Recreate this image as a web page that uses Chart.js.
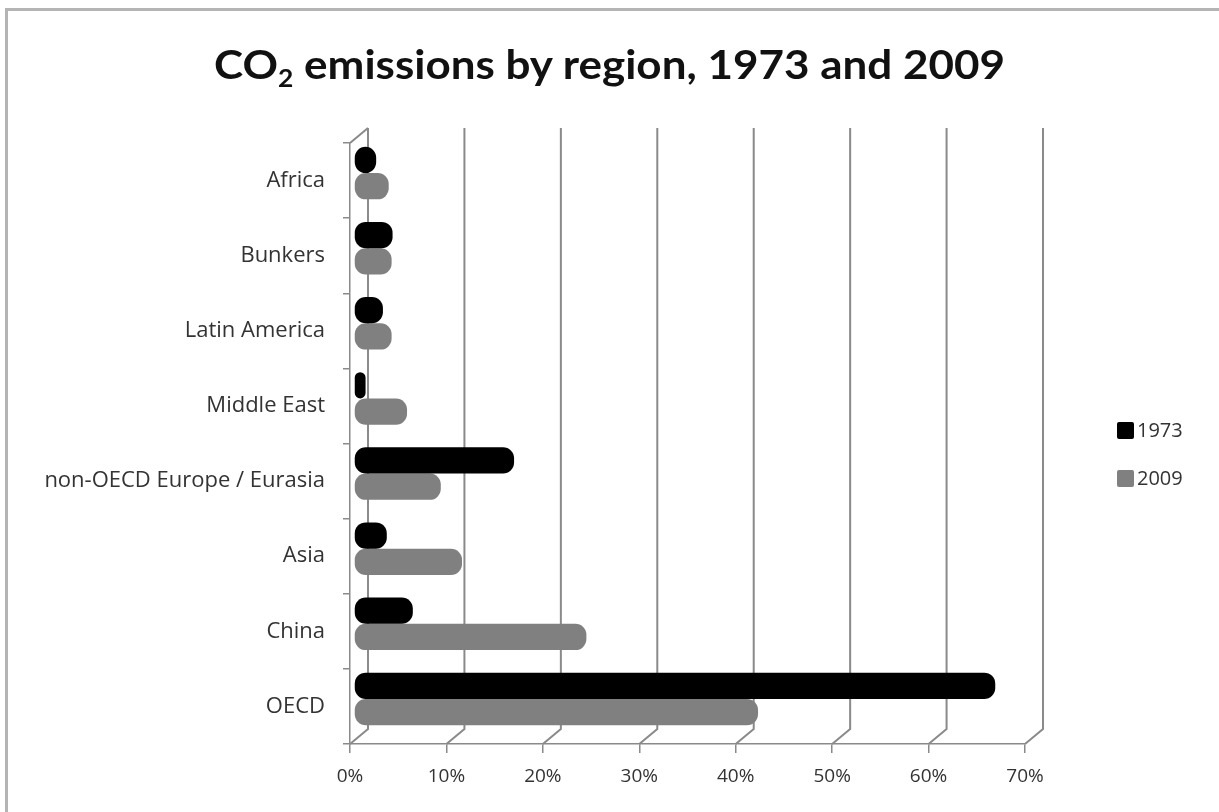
<!DOCTYPE html>
<html>
<head>
<meta charset="utf-8">
<script src="https://cdn.jsdelivr.net/npm/chart.js@4"></script>
<style>
  html, body { margin: 0; padding: 0; background: #fff; overflow: hidden; }
  body { width: 1219px; height: 812px; position: relative; }
  #frameL { position: absolute; left: 5px; top: 8px; width: 3px; height: 804px; background: #b4b4b4; }
  #frameT { position: absolute; left: 5px; top: 8px; width: 1214px; height: 3px; background: #b4b4b4; }
  #title { position: absolute; left: 0; width: 1219px; top: 40px; text-align: center;
           font-family: Lato, "Open Sans", sans-serif; font-weight: bold; font-size: 40px;
           color: #111; white-space: nowrap; }
  #title span.t { display: inline-block; transform: scaleX(1.1); transform-origin: center; }
  #title sub { font-size: 24px; vertical-align: -8px; }
  #chartBox { position: absolute; left: 0; top: 0; width: 1219px; height: 812px; }
  .leg { position: absolute; left: 1117px; font-family: "Open Sans", sans-serif;
         font-size: 20px; color: #333; }
  .leg i { display: inline-block; width: 17px; height: 17px; border-radius: 2px;
           vertical-align: -2px; margin-right: 3px; }
</style>
</head>
<body>
<div id="frameL"></div>
<div id="frameT"></div>
<div id="chartBox"><canvas id="chartCO2" width="1219" height="812"></canvas></div>
<div id="title"><span class="t">CO<sub>2</sub> emissions by region, 1973 and 2009</span></div>
<div class="leg" style="top:416px"><i style="background:#000"></i>1973</div>
<div class="leg" style="top:464px"><i style="background:#808080"></i>2009</div>
<script>
// Regiones y participación en las emisiones (%)
const regiones = ["Africa", "Bunkers", "Latin America", "Middle East",
                  "non-OECD Europe / Eurasia", "Asia", "China", "OECD"];
const anios = ["1973", "2009"];
const share1973 = [2.3, 4.0, 3.0, 1.2, 16.6, 3.4, 6.1, 66.5];
const share2009 = [3.6, 3.9, 3.9, 5.5, 9.0, 11.2, 24.1, 41.9];
const ticksX = [0, 10, 20, 30, 40, 50, 60, 70];

// desplazamiento de la pared del fondo (efecto 3D)
const DX = 18, DY = -15;

// Pared del fondo y líneas de profundidad
const paredFondo = {
    id: "paredFondo",
    beforeDatasetsDraw(chart) {
        const ctx = chart.ctx, xs = chart.scales.x, area = chart.chartArea;
        ctx.save();
        ctx.strokeStyle = "#8a8a8a";
        ctx.lineWidth = 2;
        ticksX.forEach(v => {
            const x = xs.getPixelForValue(v);
            ctx.beginPath();
            ctx.moveTo(x + DX, area.top + DY);
            ctx.lineTo(x + DX, area.bottom + DY);
            ctx.lineTo(x, area.bottom);
            ctx.stroke();
        });
        ctx.beginPath();
        ctx.moveTo(area.left, area.top);
        ctx.lineTo(area.left + DX, area.top + DY);
        ctx.stroke();
        ctx.restore();
        // barras un poco hacia el fondo
        ctx.save();
        ctx.translate(4, DY / 2);
    },
    afterDatasetsDraw(chart) {
        chart.ctx.restore();
    }
};

var ctxCO2 = document.getElementById("chartCO2").getContext("2d");
var chartCO2 = new Chart(ctxCO2, {
    type: "bar",
    data: {
        labels: regiones,
        datasets: [{
            label: anios[0],
            data: share1973,
            backgroundColor: "#000000",
            borderRadius: 11,
            borderSkipped: false
        }, {
            label: anios[1],
            data: share2009,
            backgroundColor: "#808080",
            borderRadius: 11,
            borderSkipped: false
        }]
    },
    plugins: [paredFondo],
    options: {
        indexAxis: "y",
        responsive: false,
        animation: false,
        categoryPercentage: 0.7,
        barPercentage: 1.0,
        layout: { padding: { top: 143, right: 194, left: 0, bottom: 0 } },
        plugins: {
            legend: { display: false },
            tooltip: { enabled: false }
        },
        scales: {
            x: {
                min: 0,
                max: 70,
                afterFit(scale) { scale.height = 68; },
                afterBuildTicks(scale) { scale.ticks = ticksX.map(v => ({ value: v })); },
                ticks: {
                    callback: v => v + "%",
                    color: "#333",
                    padding: 12,
                    font: { family: "'Open Sans', sans-serif", size: 19 }
                },
                grid: { drawOnChartArea: false, drawTicks: true, tickLength: 9, color: "#8a8a8a", lineWidth: 1.5 },
                border: { display: true, color: "#8a8a8a", width: 1.5 }
            },
            y: {
                afterFit(scale) { scale.width = 350; },
                ticks: {
                    color: "#333",
                    padding: 18,
                    font: { family: "'Open Sans', sans-serif", size: 22 }
                },
                grid: { offset: true, drawOnChartArea: false, drawTicks: true, tickLength: 7, color: "#8a8a8a", lineWidth: 1.5 },
                border: { display: true, color: "#8a8a8a", width: 1.5 }
            }
        }
    }
});
</script>
</body>
</html>
